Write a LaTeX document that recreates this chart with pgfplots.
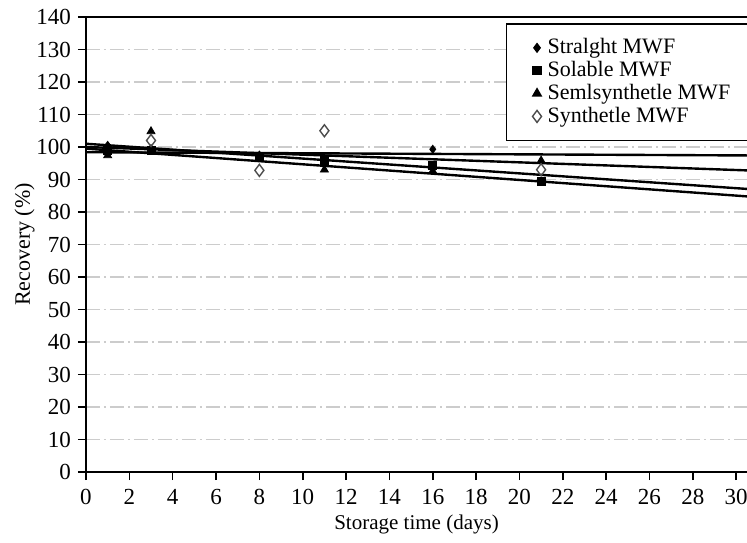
\documentclass[border=0pt]{standalone}
\usepackage{fontspec}
\setmainfont{Liberation Serif}
\usepackage{pgfplots}
\pgfplotsset{compat=1.18}

\begin{document}
\begin{tikzpicture}
\begin{axis}[
    scale only axis,
    width=330.5bp, height=227.5bp,
    xmin=0, xmax=30.5,
    ymin=0, ymax=140,
    xtick={0,2,...,30},
    ytick={0,10,...,140},
    axis lines*=left,
    axis line style={line width=1pt},
    tick align=outside,
    major tick length=4bp,
    tick style={line width=0.8pt, black},
    ymajorgrids,
    major grid style={gray!40, line width=0.6pt, dash pattern=on 7bp off 2bp on 1bp off 2bp},
    font=\fontsize{11.5bp}{13bp}\selectfont,
    /pgf/number format/assume math mode=true,
    xticklabel style={yshift=-1bp},
    xlabel={Storage time (days)},
    ylabel={Recovery (\%)},
    every axis x label/.style={at={(axis description cs:0.5,-0.116)}, anchor=center,
        font=\fontsize{10.5bp}{12bp}\selectfont},
    every axis y label/.style={at={(axis description cs:-0.093,0.5)}, rotate=90, anchor=center,
        font=\fontsize{11bp}{12bp}\selectfont},
    legend style={at={(0.635,0.987)}, anchor=north west, draw=black, line width=0.8pt,
        font=\fontsize{11bp}{11bp}\selectfont, inner xsep=13bp, inner ysep=7.5bp,
        row sep=2.3bp, nodes={inner ysep=0pt, inner xsep=3bp}},
    legend cell align=left,
]
% fitted lines
\addplot[forget plot, black, line width=1.2pt] coordinates {(0,98.4) (30.5,97.4)};
\addplot[forget plot, black, line width=1.2pt] coordinates {(0,100.0) (30.5,92.8)};
\addplot[forget plot, black, line width=1.2pt] coordinates {(0,101.0) (30.5,87.1)};
\addplot[forget plot, black, line width=1.2pt] coordinates {(0,99.5) (30.5,84.8)};

\addplot[only marks, mark=diamond*, mark size=2bp, black] coordinates {
    (1,100.5) (3,99.5) (8,97.5) (11,96.5) (16,99.3)
};
\addlegendentry{Stralght MWF}
\addplot[only marks, mark=square*, mark size=2bp, black] coordinates {
    (1,99.0) (3,99.0) (8,97.0) (11,96.0) (16,94.3) (21,89.5)
};
\addlegendentry{Solable MWF}
\addplot[only marks, mark=triangle*, mark size=2.3bp, black] coordinates {
    (1,97.4) (3,104.8) (8,96.5) (11,93.0) (16,92.6) (21,95.8)
};
\addlegendentry{Semlsynthetle MWF\hspace*{22bp}}
\addplot[only marks, mark=diamond, mark size=3bp, mark options={fill=white, draw=black!70, line width=0.7pt}] coordinates {
    (3,102.0) (8,92.8) (11,105.0) (21,93.0)
};
\addlegendentry{Synthetle MWF}

\draw[line width=1pt] (rel axis cs:0,1) -- (rel axis cs:1,1);
\coordinate (ll) at (rel axis cs:0,0);
\coordinate (ur) at (rel axis cs:1,1);
\end{axis}
\pgfresetboundingbox
\path ([xshift=-43bp,yshift=-35.5bp]ll) rectangle ([yshift=8.5bp]ur);
\end{tikzpicture}
\end{document}
